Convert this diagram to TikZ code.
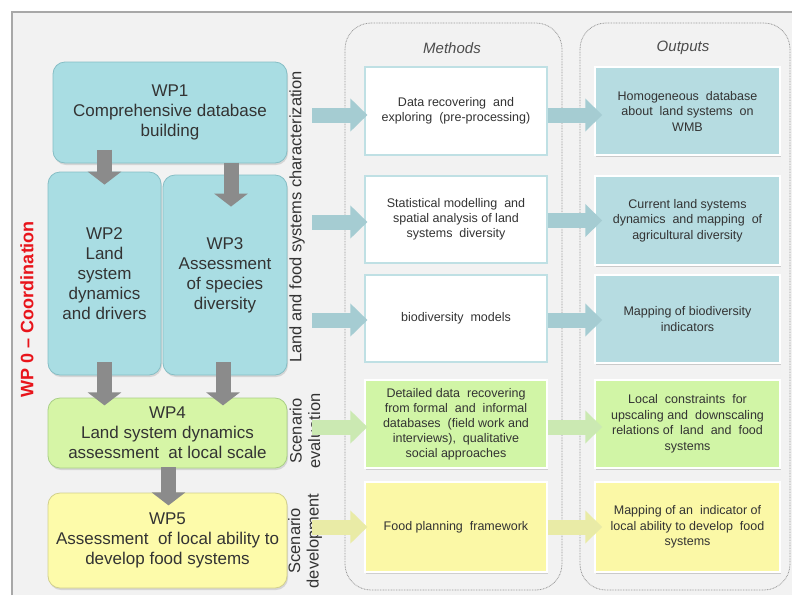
\documentclass[tikz,border=0pt]{standalone}
\usepackage{fontspec}
\setmainfont{Liberation Sans}
\usetikzlibrary{arrows.meta,calc,shadows}
\definecolor{bgray}{HTML}{F2F2F2}
\definecolor{framegray}{HTML}{A8A8A8}
\definecolor{wpteal}{HTML}{A9DDE3}
\definecolor{wptealb}{HTML}{86BEC5}
\definecolor{wpgreen}{HTML}{D6F5A6}
\definecolor{wpgreenb}{HTML}{A9CF86}
\definecolor{wpyellow}{HTML}{FDFBAA}
\definecolor{wpyellowb}{HTML}{D2D08C}
\definecolor{mborder}{HTML}{BFE0E4}
\definecolor{boxgreen}{HTML}{D1F5A6}
\definecolor{boxyellow}{HTML}{FBF8A6}
\definecolor{boxteal}{HTML}{B6DCE1}
\definecolor{arteal}{HTML}{A5CCD2}
\definecolor{argreen}{HTML}{CBE9B2}
\definecolor{aryellow}{HTML}{E9EBA6}
\definecolor{argray}{HTML}{8B8B8B}
\definecolor{txt}{HTML}{333333}
\definecolor{wpred}{HTML}{E8141B}
\tikzset{
  wpbox/.style={draw, line width=0.8pt, rounded corners=12pt, align=center, text=txt,
    font=\fontsize{17}{20}\selectfont, inner sep=2pt,
    drop shadow={shadow xshift=1pt, shadow yshift=-2pt, opacity=0.25}},
  mbox/.style={draw, line width=1.2pt, align=center, text=txt, inner sep=2pt,
    minimum width=182pt, font=\fontsize{12.5}{15}\selectfont},
  obox/.style={draw=white, line width=1.5pt, align=center, text=txt, inner sep=2pt,
    minimum width=185pt, font=\fontsize{12.5}{15.5}\selectfont,
    drop shadow={shadow xshift=1pt, shadow yshift=-2pt, opacity=0.35}},
  sidelabel/.style={rotate=90, align=center, text=txt, font=\fontsize{16.5}{18.5}\selectfont},
  colhead/.style={font=\fontsize{15}{18}\selectfont\itshape, text=black!70},
  container/.style={draw=black!40, line width=0.8pt, dash pattern=on 0.8pt off 0.8pt, rounded corners=26pt},
  garrow/.style={draw=argray, line width=15pt, -{Triangle[width=33pt,length=13pt]}},
  barrow/.style={line width=15pt, -{Triangle[width=32pt,length=17pt]}}
}
\begin{document}
\begin{tikzpicture}[x=1pt,y=-1pt]
\useasboundingbox (0,0) rectangle (792,598);
% frame and background
\fill[white] (0,0) rectangle (792,598);
\fill[bgray] (12,12) rectangle (792,595);
\draw[framegray, line width=2pt] (12,595) -- (12,12) -- (792,12);

% containers
\draw[container] (345,23) rectangle (562,590);
\draw[container] (580,23) rectangle (790,590);
\node[colhead] (mhead) at (452,48) {Methods};
\node[colhead] (ohead) at (683,48) {Outputs};

% WP boxes
\node[wpbox, fill=wpteal, draw=wptealb, minimum width=234pt, minimum height=101pt] (wp1) at (170,112.5)
  {WP1\\Comprehensive database\\building};
\node[wpbox, fill=wpteal, draw=wptealb, minimum width=113pt, minimum height=203pt] (wp2) at (104.5,273.5)
  {WP2\\Land\\system\\dynamics\\and drivers};
\node[wpbox, fill=wpteal, draw=wptealb, minimum width=124pt, minimum height=200pt] (wp3) at (225,275)
  {WP3\\Assessment\\of species\\diversity};
\node[wpbox, fill=wpgreen, draw=wpgreenb, minimum width=239pt, minimum height=70pt] (wp4) at (167.5,433)
  {WP4\\Land system dynamics\\assessment\ \ at local scale};
\node[wpbox, fill=wpyellow, draw=wpyellowb, minimum width=239pt, minimum height=95pt] (wp5) at (167.5,540.5)
  {WP5\\Assessment\ \ of local ability to\\develop food systems};

% side labels
\node[rotate=90, text=wpred, font=\fontsize{18}{20}\selectfont\bfseries] (wp0) at (27,309) {WP 0 -- Coordination};
\node[sidelabel] (lab1) at (297,217) {Land and food systems characterization};
\node[sidelabel] (lab4) at (305,431) {Scenario\\evaluation};
\node[sidelabel] (lab5) at (305,541) {Scenario\\development};

% method boxes
\node[mbox, fill=white, draw=mborder, minimum height=88pt] (m1) at (456,111)
  {Data recovering\ \ and\\exploring\ \ (pre-processing)};
\node[mbox, fill=white, draw=mborder, minimum height=87pt] (m2) at (456,219.5)
  {Statistical modelling\ \ and\\spatial analysis of land\\systems\ \ diversity};
\node[mbox, fill=white, draw=mborder, minimum height=87pt] (m3) at (456,318.5)
  {biodiversity\ \ models};
\node[mbox, fill=boxgreen, draw=white, minimum height=88pt,
  drop shadow={shadow xshift=1pt, shadow yshift=-2pt, opacity=0.3}] (m4) at (456,424)
  {Detailed data\ \ recovering\\from formal\ \ and\ \ informal\\databases\ \ (field work and\\interviews),\ \ qualitative\\social approaches};
\node[mbox, fill=boxyellow, draw=white, minimum height=90pt,
  drop shadow={shadow xshift=1pt, shadow yshift=-2pt, opacity=0.3}] (m5) at (456,527)
  {Food planning\ \ framework};

% output boxes
\node[obox, fill=boxteal, minimum height=88pt] (o1) at (687.5,111)
  {Homogeneous\ \ database\\about\ \ land systems\ \ on\\WMB};
\node[obox, fill=boxteal, minimum height=89pt] (o2) at (687.5,220.5)
  {Current land systems\\dynamics\ \ and mapping\ \ of\\agricultural diversity};
\node[obox, fill=boxteal, minimum height=88pt] (o3) at (687.5,319)
  {Mapping of biodiversity\\indicators};
\node[obox, fill=boxgreen, minimum height=88pt] (o4) at (687.5,424)
  {Local\ \ constraints\ \ for\\upscaling and\ \ downscaling\\relations of\ \ land\ \ and\ \ food\\systems};
\node[obox, fill=boxyellow, minimum height=90pt] (o5) at (687.5,527)
  {Mapping of an\ \ indicator of\\local ability to develop\ \ food\\systems};

% gray arrows between WPs
\draw[garrow] ($(wp2.north)+(0,-22)$) -- ($(wp2.north)+(0,13)$);
\draw[garrow] ($(wp3.north)+(6,-12)$) -- ($(wp3.north)+(6,32)$);
\draw[garrow] ($(wp2.south)+(0,-13)$) -- ($(wp2.south)+(0,30)$);
\draw[garrow] ($(wp3.south)+(-2,-13)$) -- ($(wp3.south)+(-2,30)$);
\draw[garrow] ($(wp4.south)+(1,-1)$) -- ($(wp4.south)+(1,37)$);

% arrows to methods
\draw[barrow, draw=arteal] ($(m1.west)+(-52,4)$) -- ($(m1.west)+(3,4)$);
\draw[barrow, draw=arteal] ($(m2.west)+(-52,2.5)$) -- ($(m2.west)+(3,2.5)$);
\draw[barrow, draw=arteal] ($(m3.west)+(-52,1.5)$) -- ($(m3.west)+(3,1.5)$);
\draw[barrow, draw=argreen] ($(m4.west)+(-52,3)$) -- ($(m4.west)+(3,3)$);
\draw[barrow, draw=aryellow] ($(m5.west)+(-52,0)$) -- ($(m5.west)+(3,0)$);

% arrows to outputs
\draw[barrow, draw=arteal] ($(m1.east)+(0,4)$) -- ($(o1.west)+(8,4)$);
\draw[barrow, draw=arteal] ($(m2.east)+(0,1)$) -- ($(o2.west |- m2.east)+(8,1)$);
\draw[barrow, draw=arteal] ($(m3.east)+(0,1.5)$) -- ($(o3.west |- m3.east)+(8,1.5)$);
\draw[barrow, draw=argreen] ($(m4.east)+(0,3)$) -- ($(o4.west)+(8,3)$);
\draw[barrow, draw=aryellow] ($(m5.east)+(0,0)$) -- ($(o5.west |- m5.east)+(8,0)$);
\end{tikzpicture}
\end{document}
